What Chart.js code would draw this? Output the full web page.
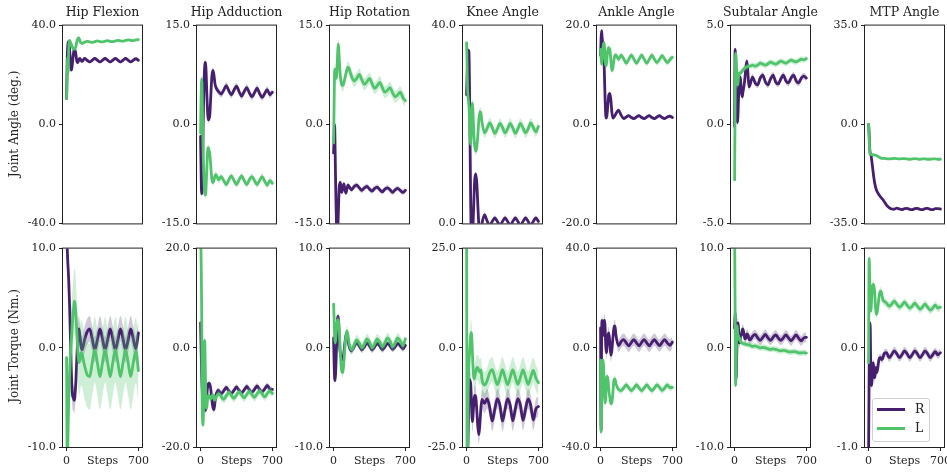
<!DOCTYPE html>
<html>
<head>
<meta charset="utf-8">
<script src="https://cdn.jsdelivr.net/npm/chart.js@4.4.1/dist/chart.umd.min.js"></script>
<style>
  body { margin: 0; background: #fff; }
  #wrap { position: relative; width: 947px; height: 474px; overflow: hidden; font-family: 'DejaVu Serif', serif; color: #222; }
  #wrap canvas { position: absolute; }
  .ttl { position: absolute; top: 4px; width: 130px; text-align: center; font-size: 12.5px; line-height: 16px; white-space: nowrap; }
  .ylab { position: absolute; font-size: 12px; line-height: 14px; white-space: nowrap; transform: translate(-50%, -50%) rotate(-90deg); }
  #legend { position: absolute; left: 872px; top: 398px; width: 56px; height: 42px; border: 1px solid #d0d0d0; border-radius: 3px; background: rgba(255,255,255,0.85); font-size: 12.5px; }
  #legend .sw { position: absolute; left: 4px; width: 28px; height: 3px; }
  #legend .lb { position: absolute; left: 42px; line-height: 14px; }
</style>
</head>
<body>
<div id="wrap"></div>
<script>
// simulation steps (x values)
var steps = [0, 5, 10, 15, 20, 25, 30, 35, 40, 45, 50, 55, 60, 65, 70, 75, 80, 90, 100, 110, 120, 130, 140, 150,
  175, 200, 225, 250, 275, 300, 325, 350, 375, 400, 425, 450, 475, 500, 525, 550, 575, 600, 625, 650, 675, 700];

// joint angles (deg.)
var hipFlexionR = [10.5, 24, 31, 33.5, 33.5, 32.5, 30, 27, 24, 22, 22.5, 24, 26, 28, 29.5, 30.3, 30.5, 28.5, 25.5, 25, 26.3, 26.7, 26, 25.5,
  26.7, 26, 25.3, 26, 26.7, 26, 25.3, 26, 26.7, 26, 25.3, 26, 26.7, 26, 25.3, 26, 26.7, 26, 25.3, 26, 26.6, 26];
var hipFlexionL = [10.5, 18, 27, 21, 30, 33.5, 34, 33.5, 33, 32.5, 32, 31.5, 31, 30.5, 30.5, 30.5, 30.5, 31.5, 33.5, 34.8, 35, 33.8, 33, 32.8,
  33.3, 33.6, 33.4, 33.2, 33.5, 33.8, 33.5, 33.4, 33.7, 33.9, 33.6, 33.5, 33.8, 34.0, 33.8, 33.7, 34.0, 34.2, 34.0, 33.9, 34.2, 34.3];
var hipAdductionR = [-1.8, -7, -10.5, -10, -5, 0, 4, 7, 8.8, 9.4, 9, 7.5, 5, 3, 1.5, 0.7, 0.8, 1.5, 4.5, 7.3, 8.2, 7.5, 6.2, 5.6,
  5.0, 4.6, 5.2, 5.9, 5.1, 4.5, 5.2, 5.8, 5.0, 4.3, 5.0, 5.6, 4.8, 4.2, 4.8, 5.5, 4.7, 4.1, 4.7, 5.3, 4.5, 4.9];
var hipAdductionL = [-1.3, 4, 6.9, 5, 0, -4, -7, -9, -10.3, -10.7, -10.5, -9, -7, -5, -3.8, -3.5, -3.8, -4.5, -6.5, -8.3, -8.8, -8.5, -7.8, -7.6,
  -8.4, -7.9, -8.5, -9.1, -8.4, -7.8, -8.5, -9.1, -8.4, -7.8, -8.5, -9.1, -8.4, -7.9, -8.5, -9.1, -8.5, -7.9, -8.6, -9.2, -8.5, -8.9];
var hipRotationR = [-4.3, -2, 0, -4, -9, -13, -16, -17, -16.5, -14, -11.5, -9.5, -9, -8.8, -9.2, -10, -10.3, -9.5, -9, -9.8, -10.4, -9.8, -9.2, -9.4,
  -9.9, -9.4, -9.2, -9.6, -10.0, -9.6, -9.4, -9.8, -10.1, -9.7, -9.5, -9.9, -10.2, -9.8, -9.6, -9.9, -10.3, -9.9, -9.7, -10.0, -10.3, -10.0];
var hipRotationL = [-2.8, 3, 8, 8.4, 7.5, 7, 7.5, 9, 11, 12.2, 11.5, 10, 8.5, 7.5, 6.8, 6.3, 6.0, 5.9, 6.3, 7.0, 7.7, 8.3, 8.7, 8.5,
  7.3, 6.6, 7.0, 7.6, 6.8, 6.1, 6.5, 7.0, 6.2, 5.5, 5.9, 6.4, 5.6, 4.9, 5.2, 5.6, 4.8, 4.2, 4.5, 4.9, 4.1, 3.6];
var kneeAngleR = [26, 30, 33, 35, 35, 33, 25, 14, 4, -3, -5, -4, -2, 1, 4, 7, 9, 10, 8, 3.5, -0.5, -2, -1.5, 0,
  1.7, 0.5, -0.4, 0.4, 1.1, 0.4, -0.4, 0.4, 1.1, 0.4, -0.4, 0.4, 1.1, 0.4, -0.4, 0.4, 1.1, 0.4, -0.4, 0.4, 1.1, 0.4];
var kneeAngleL = [36.5, 32, 27, 25.5, 24.5, 23, 20, 17, 16, 18.5, 22, 24.3, 23.5, 21, 18.5, 16.5, 15.5, 14.6, 15.5, 18, 21, 22.6, 22.3, 20.5,
  18.3, 19.2, 20.3, 19.4, 18.2, 19.1, 20.2, 19.4, 18.3, 19.1, 20.2, 19.3, 18.2, 19.1, 20.2, 19.3, 18.3, 19.1, 20.3, 19.4, 18.5, 19.6];
var ankleAngleR = [14, 17.5, 19, 17.5, 16.8, 16.5, 15, 12, 8, 4.5, 2, 1.3, 1.6, 2.5, 3.8, 5, 6, 6.3, 5, 2.5, 1.3, 1.5, 1.8, 2.2,
  2.9, 1.9, 1.2, 1.5, 1.8, 1.4, 1.2, 1.5, 1.8, 1.4, 1.2, 1.5, 1.8, 1.4, 1.2, 1.5, 1.8, 1.4, 1.2, 1.5, 1.7, 1.4];
var ankleAngleL = [15.2, 13.5, 12.2, 13, 14.5, 15.8, 16.4, 16.5, 15, 13, 12, 11.9, 12.8, 14, 15, 15.5, 15.5, 15.2, 13, 10.9, 11.5, 13, 14, 14,
  13.2, 14, 13.3, 12.4, 13.2, 14, 13.2, 12.4, 13.2, 14, 13.2, 12.4, 13.2, 14, 13.2, 12.5, 13.2, 13.9, 13.2, 12.5, 13.1, 13.6];
var subtalarAngleR = [-0.1, 3.8, 3.2, 1.8, 0.9, 0.3, 0.1, 0.8, 1.6, 2.0, 2.3, 2.4, 2.1, 1.7, 1.5, 1.4, 1.6, 1.9, 2.3, 2.9, 3.2, 2.6, 1.9, 2.0,
  2.4, 2.1, 2.0, 2.35, 2.5, 2.15, 2.0, 2.3, 2.5, 2.15, 2.05, 2.3, 2.5, 2.2, 2.1, 2.35, 2.5, 2.2, 2.1, 2.35, 2.45, 2.35];
var subtalarAngleL = [-2.8, 1, 3.6, 3.4, 2.8, 2.3, 2.0, 2.2, 2.5, 2.6, 2.55, 2.6, 2.6, 2.65, 2.65, 2.7, 2.75, 2.8, 2.85, 2.9, 2.9, 2.95, 2.95, 2.95,
  3.0, 2.95, 3.0, 3.1, 3.05, 3.0, 3.07, 3.15, 3.1, 3.05, 3.12, 3.2, 3.15, 3.1, 3.18, 3.25, 3.2, 3.17, 3.23, 3.3, 3.27, 3.33];
var mtpAngleR = [0, -3, -8, -10, -10.5, -11, -12.5, -14, -15.5, -17, -18.5, -19.7, -20.8, -21.7, -22.4, -23, -23.5, -24.2, -24.8, -25.3, -25.8, -26.2, -26.6, -27.2,
  -28.5, -29.4, -29.9, -30.0, -29.6, -29.9, -30.1, -29.8, -29.7, -30.0, -30.1, -29.8, -29.7, -30.0, -30.1, -29.8, -29.7, -30.0, -30.1, -29.8, -29.8, -29.9];
var mtpAngleL = [0, -4, -9, -10.5, -10.6, -10.6, -10.7, -10.7, -10.7, -10.7, -10.8, -10.8, -10.8, -10.9, -10.9, -11, -11, -11.3, -11.5, -11.7, -11.9, -12, -12, -12,
  -12.1, -12.2, -12.1, -12.0, -12.1, -12.2, -12.1, -12.1, -12.2, -12.3, -12.2, -12.1, -12.2, -12.3, -12.2, -12.2, -12.3, -12.3, -12.2, -12.2, -12.3, -12.3];

// joint torques (Nm.)
var hipFlexionTorqueR = [12, 10.5, 9, 8, 7, 5.5, 4, 2, 0, -2, -3.5, -4.5, -5, -5, -5.2, -5.3, -5, -3.5, -1, 1, 1.9, 1.2, 0.2, -0.2,
  0.8, 1.6, 1.9, 0.9, -0.2, 0.8, 1.9, 0.9, -0.2, 0.8, 1.9, 0.9, -0.2, 0.8, 1.9, 0.9, -0.2, 0.8, 1.9, 0.9, -0.1, 1.5];
var hipFlexionTorqueL = [-1, -10.5, -10.5, -8, -5.5, -3.8, -2.5, -1.2, -0.3, 0.5, 1.3, 2.2, 2.9, 3.6, 4.2, 4.6, 4.7, 3.5, 1.5, -0.3, -1.5, -1.2, -0.5, -0.6,
  -1.8, -2.7, -2.9, -1.5, -0.2, -1.5, -2.9, -1.5, -0.2, -1.5, -2.9, -1.5, -0.2, -1.5, -2.9, -1.5, -0.2, -1.5, -2.9, -1.5, -0.3, -2.3];
var hipAdductionTorqueR = [5, 0, -5, -8, -10, -11, -11.5, -12, -12.3, -12.6, -12.5, -11.5, -10, -8.5, -7.7, -7.3, -7.2, -7.3, -8.5, -10.5, -12, -12.5, -11, -9.5,
  -8.6, -9.3, -8.7, -8.0, -8.7, -9.2, -8.6, -7.9, -8.6, -9.1, -8.5, -7.8, -8.5, -9.0, -8.4, -7.7, -8.4, -8.9, -8.3, -7.6, -8.3, -8.4];
var hipAdductionTorqueL = [25, 18, 9, -10, -15, -15.6, -9, -1, 1.5, -3, -9, -12.2, -12, -11, -10, -9.8, -9.6, -10, -10.3, -9.8, -9.5, -10.2, -10.5, -10,
  -9.3, -9.8, -10.4, -9.7, -9.0, -9.6, -10.2, -9.5, -8.9, -9.5, -10.1, -9.4, -8.8, -9.4, -10.0, -9.3, -8.7, -9.3, -9.9, -9.2, -8.7, -9.2];
var hipRotationTorqueR = [1, -1.5, -3, -3.3, -2.5, -1, 0.5, 2, 3, 3.2, 2.5, 1, 0, -0.5, -0.8, -1, -1.1, -1.2, -0.5, 0.5, 1.2, 1.4, 0.8, 0.2,
  -0.3, 0.1, 0.5, 0.2, -0.2, 0.1, 0.5, 0.2, -0.2, 0.1, 0.45, 0.2, -0.2, 0.1, 0.45, 0.2, -0.15, 0.1, 0.45, 0.2, -0.1, 0.25];
var hipRotationTorqueL = [4.4, 3, 1.2, 0.5, 0.8, 1.5, 2.2, 2.6, 2.8, 2.8, 2.5, 1.8, 0.8, -0.3, -1.3, -2, -2.4, -2.5, -1.5, 0, 1.2, 1.7, 1.3, 0.5,
  -0.2, 0.3, 0.8, 0.5, 0.0, 0.4, 0.9, 0.6, 0.0, 0.4, 0.9, 0.6, 0.1, 0.5, 1.0, 0.7, 0.1, 0.5, 1.0, 0.7, 0.2, 0.9];
var kneeTorqueR = [-30, -30, -28, -22, -15, -10, -8, -8.5, -9, -12, -16, -18.6, -18, -16, -14, -12.5, -12, -12.5, -16, -20, -21.9, -19, -15, -13,
  -14, -12.8, -15, -18.5, -15.5, -12.8, -14.5, -18.5, -15.5, -12.8, -14.5, -18.4, -15.4, -12.8, -14.5, -18.3, -15.4, -12.9, -14.5, -18.2, -15.4, -14.8];
var kneeTorqueL = [30, -28, -25, -12, -6, -3, -1, 1.5, 3.2, 3.8, 3, 0, -3.5, -6, -7.5, -7.8, -7.2, -6, -5, -5, -5.8, -6.2, -5.6, -8,
  -9.4, -8.3, -6.3, -5.5, -7.5, -9.3, -7.5, -5.5, -7.5, -9.3, -7.5, -5.6, -7.4, -9.2, -7.4, -5.6, -7.4, -9.2, -7.4, -5.7, -7.6, -8.8];
var ankleTorqueR = [8, -33, 5, 11, 9, 5, 8, 11, 11, 7, 1, -2, -1, 2, 4.5, 5.5, 6, 2, -3, -1, 4, 8, 8.8, 5,
  0.8, 2.5, 3.3, 2.0, 0.8, 2.2, 3.3, 2.0, 0.8, 2.2, 3.3, 2.0, 0.8, 2.2, 3.3, 2.0, 0.9, 2.2, 3.3, 2.0, 1.0, 2.3];
var ankleTorqueL = [-5, -34, -25, -12, -6, -5, -8, -14, -20, -22.3, -20, -15, -12, -11.5, -12.5, -14, -17, -20, -22.5, -22, -18, -13, -12.5, -14.5,
  -16.8, -17.3, -16.2, -15, -16.2, -17.3, -16.2, -15, -16.2, -17.3, -16.2, -15, -16.2, -17.3, -16.2, -15, -16.0, -17.2, -16.2, -15.0, -16.0, -16.0];
var subtalarTorqueR = [2, 3.5, -1, -3.1, -1, 1, 2.5, 2.5, 1.5, 0.5, 0.5, 1, 1.2, 1.2, 1.5, 1.8, 1.9, 1.5, 0.9, 1.0, 1.4, 1.3, 0.9, 0.8,
  1.15, 1.35, 1.0, 0.75, 1.05, 1.35, 1.0, 0.75, 1.05, 1.3, 1.0, 0.75, 1.0, 1.3, 1.0, 0.7, 1.0, 1.3, 0.95, 0.7, 1.0, 1.05];
var subtalarTorqueL = [12, 4, -3.8, -2, 1.5, 2.2, 1.5, 1, 1.2, 0.8, 1.0, 0.7, 0.6, 0.5, 0.5, 0.5, 0.45, 0.4, 0.4, 0.35, 0.35, 0.3, 0.3, 0.25,
  0.15, 0.2, 0.1, 0.0, 0.05, 0.0, -0.1, -0.15, -0.1, -0.15, -0.25, -0.3, -0.25, -0.3, -0.4, -0.42, -0.38, -0.42, -0.5, -0.52, -0.48, -0.53];
var mtpTorqueR = [-1.05, -0.3, 0.2, 0.25, -0.1, -0.35, -0.38, -0.3, -0.2, -0.15, -0.2, -0.3, -0.3, -0.25, -0.2, -0.2, -0.25, -0.2, -0.12, -0.1, -0.1, -0.12, -0.1, -0.06,
  -0.05, -0.1, -0.07, -0.03, -0.06, -0.1, -0.07, -0.03, -0.06, -0.1, -0.07, -0.03, -0.06, -0.1, -0.07, -0.03, -0.06, -0.1, -0.07, -0.04, -0.07, -0.05];
var mtpTorqueL = [-0.15, 0.9, 0.75, 0.5, 0.37, 0.4, 0.5, 0.6, 0.63, 0.64, 0.63, 0.6, 0.55, 0.45, 0.38, 0.34, 0.34, 0.4, 0.5, 0.56, 0.57, 0.53, 0.48, 0.47,
  0.45, 0.42, 0.44, 0.47, 0.44, 0.41, 0.43, 0.46, 0.43, 0.40, 0.42, 0.45, 0.42, 0.39, 0.41, 0.44, 0.41, 0.38, 0.40, 0.43, 0.40, 0.41];

// spread across runs (half width of the shaded band)
var angleSpreadR = [0.6, 0.5, 0.4, 0.5, 0.3, 0.17, 0.3];
var angleSpreadL = [0.3, 0.5, 0.9, 1.0, 0.6, 0.15, 0.2];
var torqueSpreadR = [1.3, 0.6, 0.3, 2.5, 2.5, 0.5, 0.04];
var torqueSpreadL = [3.3, 0.8, 0.5, 3.2, 1.3, 0.3, 0.04];

var titles = ['Hip Flexion', 'Hip Adduction', 'Hip Rotation', 'Knee Angle', 'Ankle Angle', 'Subtalar Angle', 'MTP Angle'];
var angleMin = [-40, -15, -15, 0, -20, -5, -35];
var angleMax = [40, 15, 15, 40, 20, 5, 35];
var torqueMin = [-10, -20, -10, -25, -40, -10, -1];
var torqueMax = [10, 20, 10, 25, 40, 10, 1];
var xTicks = [0, 350, 700];
var xTickLabels = ['0', 'Steps', '700'];
var rowLabels = ['Joint Angle (deg.)', 'Joint Torque (Nm.)'];

var anglesR = [hipFlexionR, hipAdductionR, hipRotationR, kneeAngleR, ankleAngleR, subtalarAngleR, mtpAngleR];
var anglesL = [hipFlexionL, hipAdductionL, hipRotationL, kneeAngleL, ankleAngleL, subtalarAngleL, mtpAngleL];
var torquesR = [hipFlexionTorqueR, hipAdductionTorqueR, hipRotationTorqueR, kneeTorqueR, ankleTorqueR, subtalarTorqueR, mtpTorqueR];
var torquesL = [hipFlexionTorqueL, hipAdductionTorqueL, hipRotationTorqueL, kneeTorqueL, ankleTorqueL, subtalarTorqueL, mtpTorqueL];

var purple = '#46206f', green = '#50c46a';
var purpleFill = 'rgba(70,32,111,0.25)', greenFill = 'rgba(80,196,106,0.28)';
var font = "'DejaVu Serif', serif";

var plotLeft = [63, 197, 330, 463, 597, 731, 865];
var plotWidth = 79;
var rowTop = [24, 247], rowHeight = [201, 200];
var wrap = document.getElementById('wrap');

// box around every panel, drawn over the lines like matplotlib spines
var framePlugin = {
  id: 'frame',
  afterDatasetsDraw: function (chart) {
    var a = chart.chartArea, c = chart.ctx;
    c.save();
    c.strokeStyle = '#222';
    c.lineWidth = 1;
    c.strokeRect(a.left - 0.5, a.top - 0.5, a.right - a.left + 1, a.bottom - a.top + 1);
    c.restore();
  }
};

function points(vals, off) {
  return steps.map(function (s, i) { return { x: s, y: vals[i] + off }; });
}

function lineSet(vals, color) {
  return { data: points(vals, 0), borderColor: color, borderWidth: 2.8, pointRadius: 0, fill: false, clip: 0,
    cubicInterpolationMode: 'monotone', borderJoinStyle: 'round', borderCapStyle: 'round' };
}

function edgeSet(vals, off, color, fillTo) {
  return { data: points(vals, off), borderColor: 'rgba(0,0,0,0)', borderWidth: 0, backgroundColor: color,
    pointRadius: 0, fill: fillTo, clip: 0, cubicInterpolationMode: 'monotone' };
}

function panel(row, col, yMin, yMax, rVals, lVals, rSpread, lSpread) {
  var canvas = document.createElement('canvas');
  var xh = row ? 24 : 8;
  canvas.width = 50 + plotWidth + 14;
  canvas.height = 8 + rowHeight[row] + xh;
  canvas.style.left = (plotLeft[col] - 50) + 'px';
  canvas.style.top = (rowTop[row] - 8) + 'px';
  wrap.appendChild(canvas);

  var yTicks = [yMin, 0, yMax].filter(function (v, i, a) { return a.indexOf(v) === i; });

  new Chart(canvas, {
    type: 'line',
    data: {
      datasets: [
        lineSet(lVals, green),
        edgeSet(lVals, lSpread, greenFill, '+1'),
        edgeSet(lVals, -lSpread, greenFill, false),
        lineSet(rVals, purple),
        edgeSet(rVals, rSpread, purpleFill, '+1'),
        edgeSet(rVals, -rSpread, purpleFill, false)
      ]
    },
    options: {
      responsive: false,
      animation: false,
      devicePixelRatio: 1,
      events: [],
      layout: { padding: { left: 0, right: 14, top: 8, bottom: 0 } },
      plugins: { legend: { display: false }, tooltip: { enabled: false } },
      scales: {
        x: {
          type: 'linear', min: -35, max: 735,
          afterBuildTicks: function (s) { if (row) s.ticks = xTicks.map(function (v) { return { value: v }; }); },
          afterFit: function (s) { s.height = xh; },
          border: { display: false },
          grid: {
            display: row === 1, drawOnChartArea: false, tickLength: 4,
            tickColor: function (c) { return c.index === 1 ? 'rgba(0,0,0,0)' : '#222'; }
          },
          ticks: {
            display: row === 1, autoSkip: false, maxRotation: 0, padding: 4, color: '#222',
            font: { family: font, size: 11 },
            callback: function (v, i) { return xTickLabels[i]; }
          }
        },
        y: {
          min: yMin, max: yMax,
          afterBuildTicks: function (s) { s.ticks = yTicks.map(function (v) { return { value: v }; }); },
          afterFit: function (s) { s.width = 50; },
          border: { display: false },
          grid: { drawOnChartArea: false, tickLength: 4, tickColor: '#222' },
          ticks: { padding: 3, color: '#222', font: { family: font, size: 11 },
            callback: function (v) { return Number(v).toFixed(1); } }
        }
      }
    },
    plugins: [framePlugin]
  });
}

for (var c = 0; c < 7; c++) {
  panel(0, c, angleMin[c], angleMax[c], anglesR[c], anglesL[c], angleSpreadR[c], angleSpreadL[c]);
  panel(1, c, torqueMin[c], torqueMax[c], torquesR[c], torquesL[c], torqueSpreadR[c], torqueSpreadL[c]);

  var t = document.createElement('div');
  t.className = 'ttl';
  t.textContent = titles[c];
  t.style.left = (plotLeft[c] + plotWidth / 2 - 65) + 'px';
  wrap.appendChild(t);
}

rowLabels.forEach(function (txt, r) {
  var d = document.createElement('div');
  d.className = 'ylab';
  d.textContent = txt;
  d.style.left = '14px';
  d.style.top = (rowTop[r] + rowHeight[r] / 2 - 1) + 'px';
  wrap.appendChild(d);
});

// legend inside the last torque panel
var legend = document.createElement('div');
legend.id = 'legend';
[['R', purple, 10], ['L', green, 29]].forEach(function (item) {
  var sw = document.createElement('div');
  sw.className = 'sw';
  sw.style.background = item[1];
  sw.style.top = (item[2] - 1.5) + 'px';
  var lb = document.createElement('div');
  lb.className = 'lb';
  lb.textContent = item[0];
  lb.style.top = (item[2] - 7.5) + 'px';
  legend.appendChild(sw);
  legend.appendChild(lb);
});
wrap.appendChild(legend);
</script>
</body>
</html>
